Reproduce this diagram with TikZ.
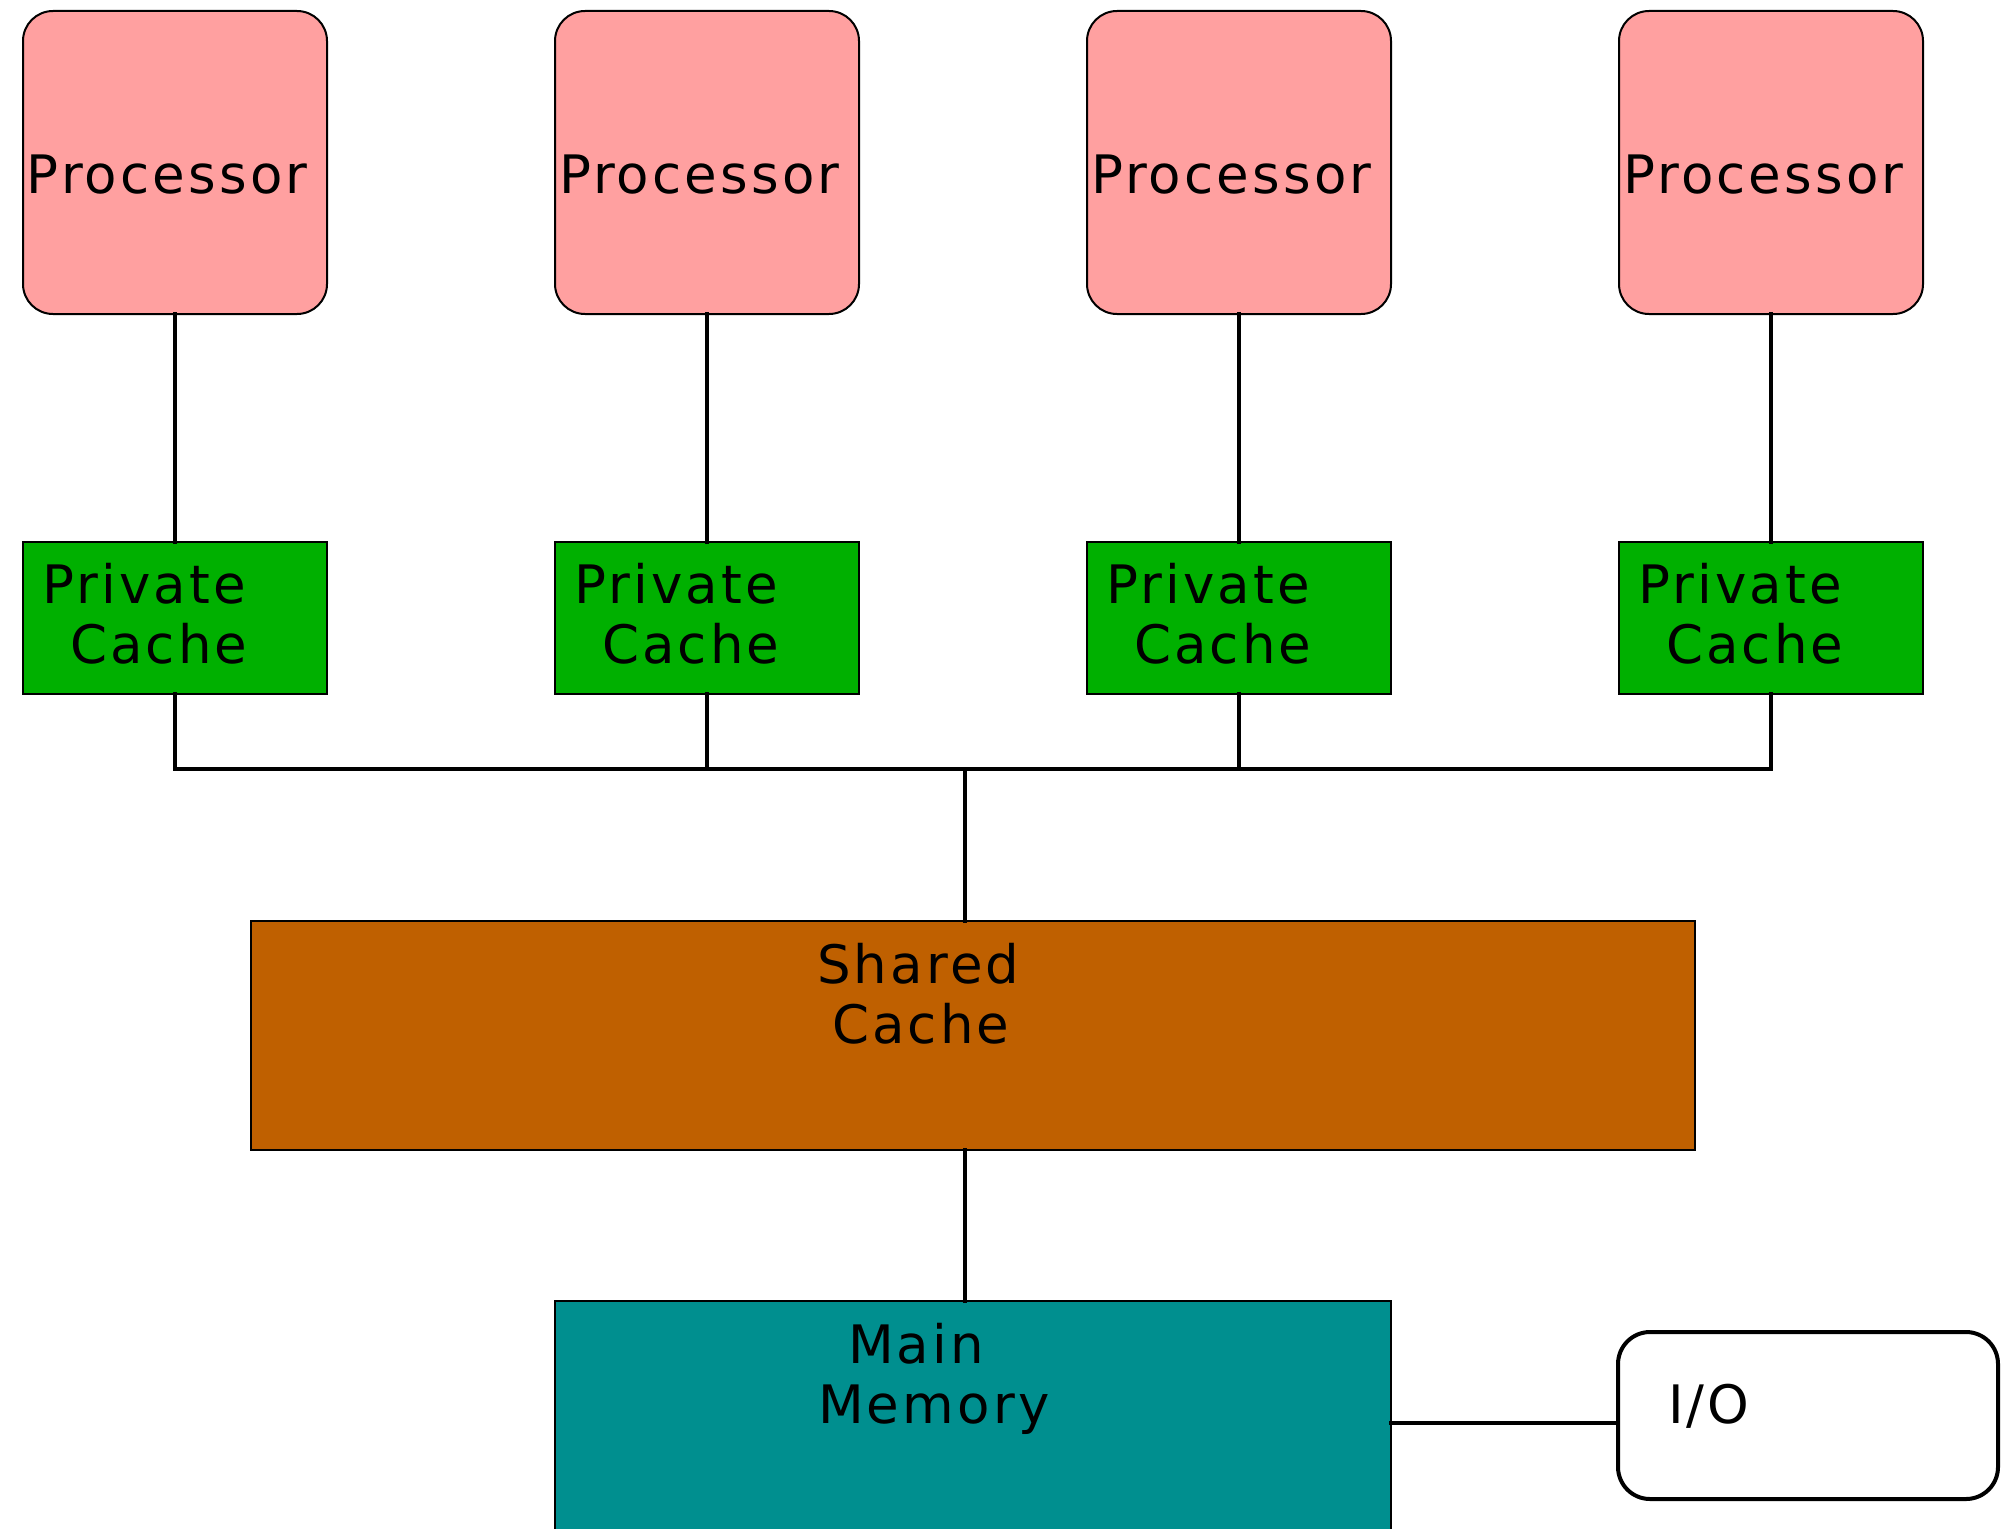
\documentclass[tikz,border=0pt]{standalone}
\usepackage{fontspec}
\setmainfont{DejaVu Sans}[LetterSpace=6]
\begin{document}
\begin{tikzpicture}[x=1pt,y=-1pt,
  box/.style={draw=black,line width=2pt,anchor=north west,inner sep=0pt,outer sep=0pt},
  cpu/.style={box,fill=cpupink,rounded corners=30pt,minimum width=304pt,minimum height=303pt},
  pcache/.style={box,fill=cachegreen,minimum width=304pt,minimum height=152pt},
  lbl/.style={anchor=base west,inner sep=0pt,outer sep=0pt,font=\fontsize{53}{60}\selectfont,align=left},
  wire/.style={line width=3.5pt,line cap=rect}]
\definecolor{cpupink}{RGB}{255,160,160}
\definecolor{cachegreen}{RGB}{0,176,0}
\definecolor{sharedorange}{RGB}{191,96,0}
\definecolor{memteal}{RGB}{0,143,143}
\useasboundingbox (0,0) rectangle (2001,1528);

% processors and their private caches (two-line labels are placed by their last baseline)
\foreach \i/\x in {1/23,2/555,3/1087,4/1619}{
  \node[cpu] (p\i) at (\x,11) {};
  \node[lbl] (pt\i) at (\x+4,193) {Processor};
  \node[pcache] (c\i) at (\x,542) {};
  \node[lbl] (ct\i) at (\x+19,663) {Private\\\hspace*{28pt}Cache};
}

% shared cache, main memory, I/O
\node[box,fill=sharedorange,minimum width=1444pt,minimum height=229pt] (sc) at (251,921) {};
\node[lbl] (sct) at (817,1043) {Shared\\\hspace*{15pt}Cache};
\node[box,fill=memteal,minimum width=836pt,minimum height=260pt] (mm) at (555,1301) {};
\node[lbl] (mmt) at (818,1423) {\hspace*{30pt}Main\\Memory};
\node[box,fill=white,line width=4pt,rounded corners=32pt,minimum width=380pt,minimum height=167pt] (io) at (1618,1332) {};
\node[lbl] (iot) at (1668,1423) {I/O};

% interconnect
\coordinate (bus) at (965,769);
\coordinate (iolink) at (1618,1423);
\foreach \i in {1,...,4}{
  \draw[wire] (p\i.south) -- (c\i.north);
}
\draw[wire] (c1.south) -- (c1.south |- bus) -- (c4.south |- bus) -- (c4.south);
\draw[wire] (c2.south) -- (c2.south |- bus);
\draw[wire] (c3.south) -- (c3.south |- bus);
\draw[wire] (bus) -- (bus |- sc.north);
\draw[wire] (bus |- sc.south) -- (bus |- mm.north);
\draw[wire] (mm.east |- iolink) -- (iolink);
\end{tikzpicture}
\end{document}
